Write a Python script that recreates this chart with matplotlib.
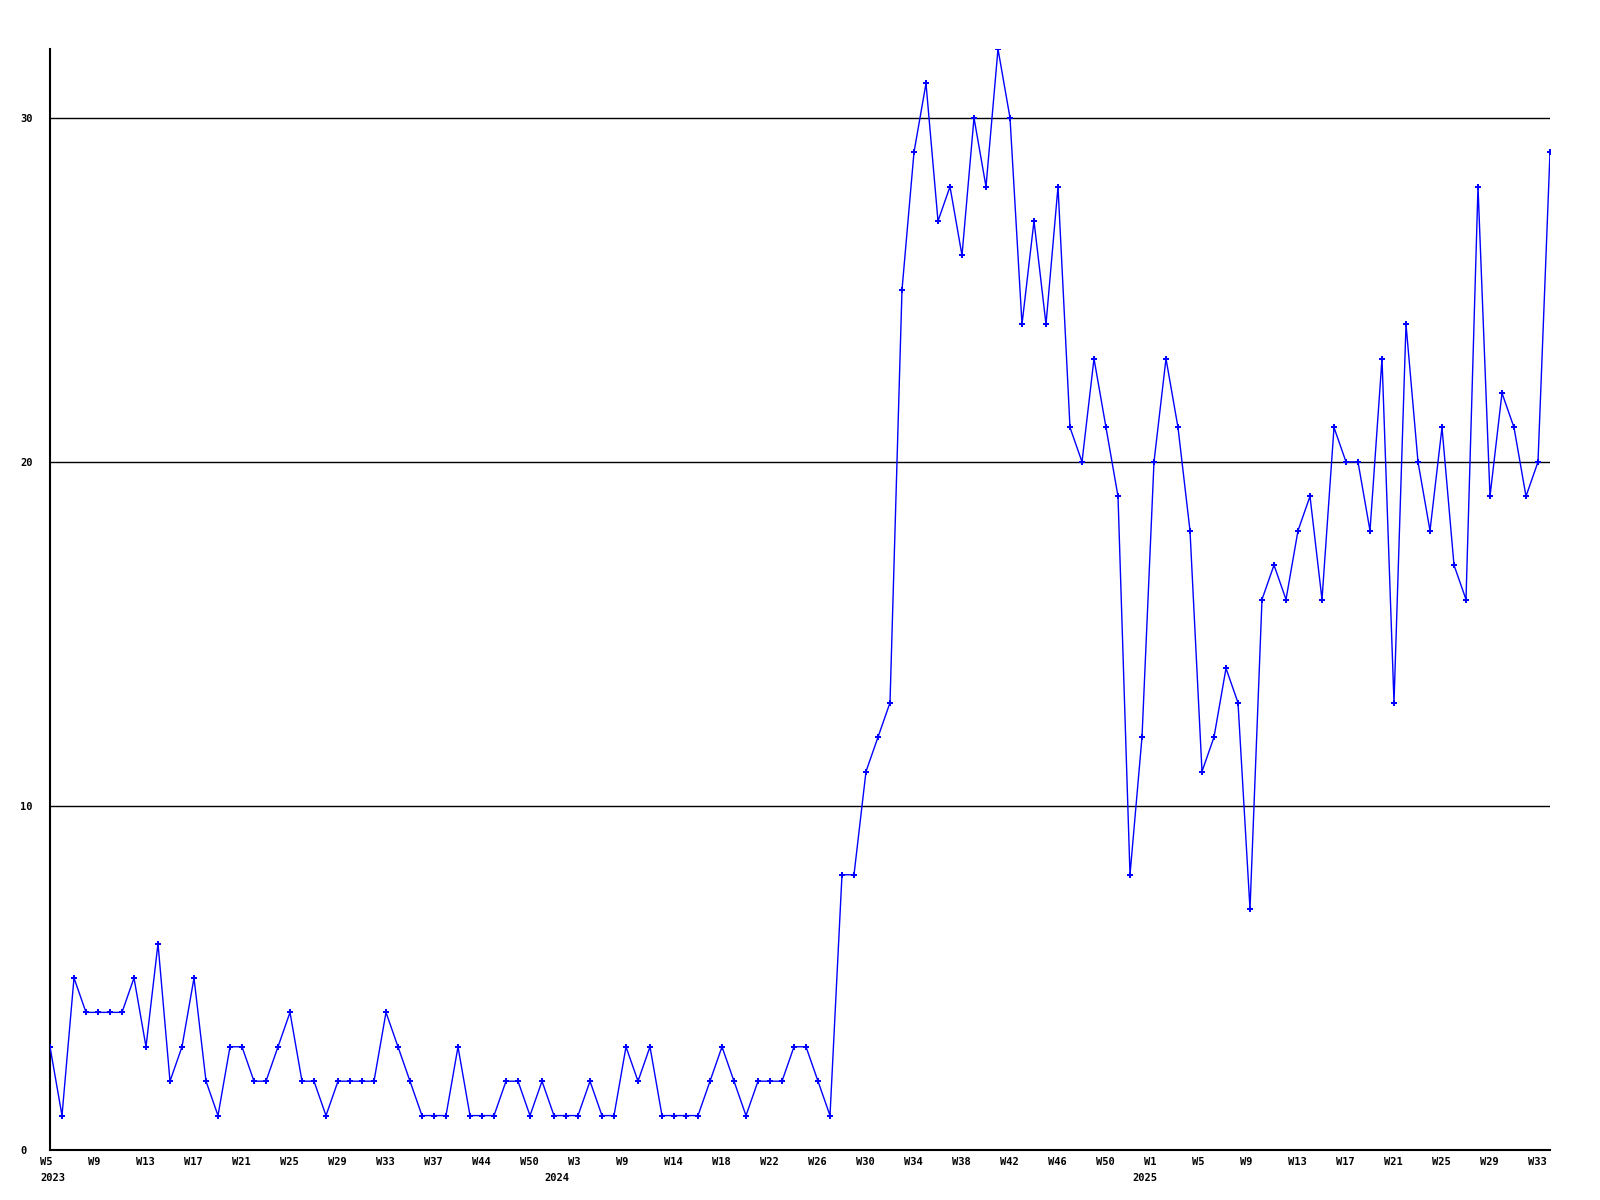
import matplotlib
matplotlib.use("Agg")
import matplotlib.pyplot as plt
from matplotlib.transforms import ScaledTranslation

# Weekly values (sequential weeks, 2023 W5 .. 2025 W34)
values = [
    3, 1, 5, 4, 4, 4, 4, 5, 3, 6,
    2, 3, 5, 2, 1, 3, 3, 2, 2, 3,
    4, 2, 2, 1, 2, 2, 2, 2, 4, 3,
    2, 1, 1, 1, 3, 1, 1, 1, 2, 2,
    1, 2, 1, 1, 1, 2, 1, 1, 3, 2,
    3, 1, 1, 1, 1, 2, 3, 2, 1, 2,
    2, 2, 3, 3, 2, 1, 8, 8, 11, 12,
    13, 25, 29, 31, 27, 28, 26, 30, 28, 32,
    30, 24, 27, 24, 28, 21, 20, 23, 21, 19,
    8, 12, 20, 23, 21, 18, 11, 12, 14, 13,
    7, 16, 17, 16, 18, 19, 16, 21, 20, 20,
    18, 23, 13, 24, 20, 18, 21, 17, 16, 28,
    19, 22, 21, 19, 20, 29,
]

# Tick labels shown every 4th point
tick_labels = ["W5", "W9", "W13", "W17", "W21", "W25", "W29", "W33",
               "W37", "W44", "W50", "W3", "W9", "W14", "W18", "W22",
               "W26", "W30", "W34", "W38", "W42", "W46", "W50", "W1",
               "W5", "W9", "W13", "W17", "W21", "W25", "W29", "W33"]
tick_step = 4

year_labels = ["2023", "2024", "2025"]
year_positions = [0, 42, 91]

y_ticks = [0, 10, 20, 30]

fig = plt.figure(figsize=(16, 12), dpi=100)
ax = fig.add_axes([50/1600, 50/1200, 1500/1600, (1150-49)/1200])

x = list(range(len(values)))
ax.plot(x, values, color="#0000FF", linewidth=1.0, marker="P",
        markersize=4, markeredgewidth=0, zorder=3)

ax.set_xlim(0, len(values) - 1)
ax.set_ylim(0, 32)

for v in y_ticks[1:]:
    ax.axhline(v, color="black", linewidth=1.0, zorder=1)

for s in ["top", "right"]:
    ax.spines[s].set_visible(False)
for s in ["left", "bottom"]:
    ax.spines[s].set_color("black")
    ax.spines[s].set_linewidth(1.5)

font = dict(family="DejaVu Sans Mono", weight="bold", size=7.5)

ax.set_yticks(y_ticks)
ax.set_yticklabels([str(v) for v in y_ticks], fontdict=font)
ax.tick_params(axis="y", length=0, pad=21.6)
for lab in ax.get_yticklabels():
    lab.set_horizontalalignment("left")

xt = [i * tick_step for i in range(len(tick_labels))]
ax.set_xticks(xt)
ax.set_xticklabels(tick_labels, fontdict=font)
ax.tick_params(axis="x", length=0, pad=5)
offset = ScaledTranslation(-10/100, 0, fig.dpi_scale_trans)
for lab in ax.get_xticklabels():
    lab.set_horizontalalignment("left")
    lab.set_transform(lab.get_transform() + offset)

for yl, yp in zip(year_labels, year_positions):
    ax.annotate(yl, xy=(yp, 0), xycoords=("data", "axes fraction"),
                xytext=(-7.2, -16.5), textcoords="offset points",
                ha="left", va="top", **font)

fig.savefig("out.png", dpi=100, facecolor="white")
